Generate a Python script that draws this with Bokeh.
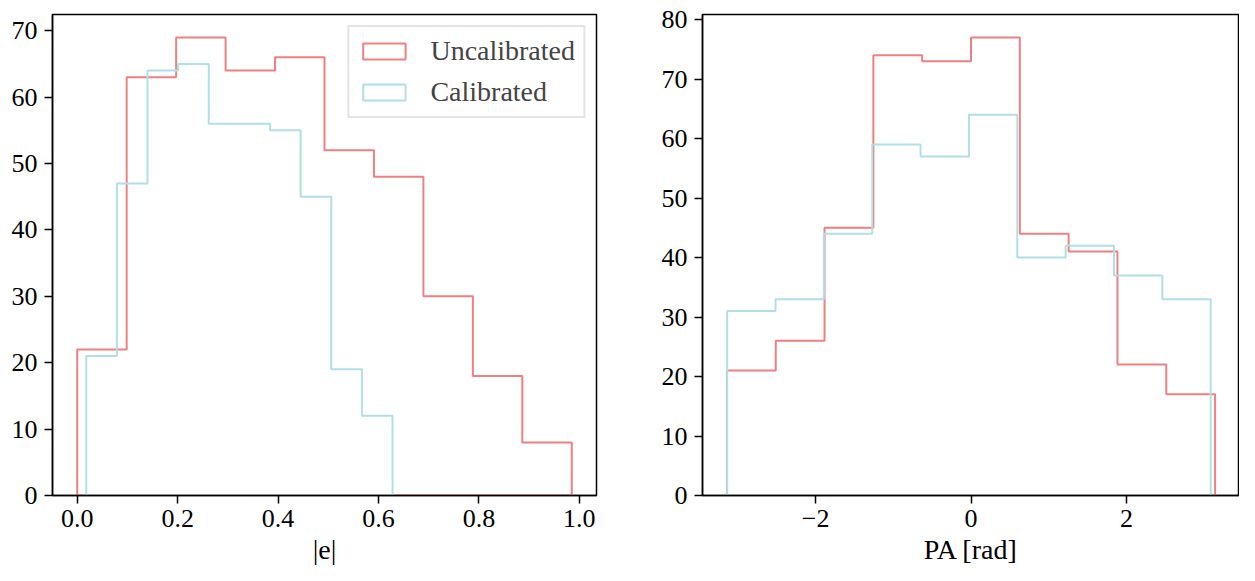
import numpy as np
from bokeh.plotting import figure
from bokeh.layouts import row
from bokeh.models import Range1d, FixedTicker, Legend, LegendItem
from bokeh.embed import file_html
from bokeh.resources import INLINE

# ---------------- data ----------------
# |e| histograms (10 bins each)
e_uncal_range = (0.0, 0.985)
e_uncal_counts = [22, 63, 69, 64, 66, 52, 48, 30, 18, 8]
e_cal_range = (0.018, 0.628)
e_cal_counts = [21, 47, 64, 65, 56, 56, 55, 45, 19, 12]

# PA histograms (10 bins each)
pa_uncal_range = (-3.1416, 3.1416)
pa_uncal_counts = [21, 26, 45, 74, 73, 77, 44, 41, 22, 17]
pa_cal_range = (-3.138, 3.085)
pa_cal_counts = [31, 33, 44, 59, 57, 64, 40, 42, 37, 33]

series_labels = ["Uncalibrated", "Calibrated"]
x1_ticks = [0.0, 0.2, 0.4, 0.6, 0.8, 1.0]
x1_tick_labels = ["0.0", "0.2", "0.4", "0.6", "0.8", "1.0"]
y1_ticks = [0, 10, 20, 30, 40, 50, 60, 70]
x2_ticks = [-2, 0, 2]
x2_tick_labels = ["\u22122", "0", "2"]
y2_ticks = [0, 10, 20, 30, 40, 50, 60, 70, 80]

RED = "#F08080"
CYAN = "#B0E0E6"
FONT = "Liberation Serif"
FS = "26px"
FS_BIG = "28px"


def step_outline(rng, counts):
    n = len(counts)
    edges = np.linspace(rng[0], rng[1], n + 1)
    xs = [edges[0]]
    ys = [0]
    for i, c in enumerate(counts):
        xs += [edges[i], edges[i + 1]]
        ys += [c, c]
    xs.append(edges[-1])
    ys.append(0)
    return xs, ys


def padded(lo, hi):
    d = (hi - lo) * 0.05
    return Range1d(lo - d, hi + d)


def style(p):
    for ax in (p.xaxis[0], p.yaxis[0]):
        ax.major_label_text_font = FONT
        ax.major_label_text_font_size = FS
        ax.major_label_text_color = "black"
        ax.axis_label_text_font = FONT
        ax.axis_label_text_font_size = FS_BIG
        ax.axis_label_text_font_style = "normal"
        ax.axis_label_text_color = "black"
        ax.major_tick_out = 8
        ax.major_tick_in = 0
        ax.minor_tick_out = 0
        ax.minor_tick_in = 0
        ax.axis_line_width = 1.5
        ax.major_tick_line_width = 1.5
        ax.axis_line_color = "black"
        ax.major_tick_line_color = "black"
    p.xaxis[0].major_label_standoff = 6
    p.yaxis[0].major_label_standoff = 7
    p.xaxis[0].axis_label_standoff = 4
    p.xgrid.visible = False
    p.ygrid.visible = False
    p.outline_line_color = "black"
    p.outline_line_width = 1.5
    p.outline_line_alpha = 1.0
    p.background_fill_color = "white"
    p.border_fill_color = "white"


# ---------------- left panel ----------------
p1 = figure(frame_width=544, frame_height=481, output_backend="svg", toolbar_location=None,
            x_range=padded(e_uncal_range[0], e_uncal_range[1]),
            y_range=Range1d(0, max(e_uncal_counts + e_cal_counts) * 1.05),
            min_border_left=52, min_border_right=8, min_border_top=14, min_border_bottom=70)
xs, ys = step_outline(e_uncal_range, e_uncal_counts)
r1 = p1.patch(xs, ys, fill_alpha=0, line_color=RED, line_width=2)
xs, ys = step_outline(e_cal_range, e_cal_counts)
r2 = p1.patch(xs, ys, fill_alpha=0, line_color=CYAN, line_width=2)
p1.xaxis.axis_label = "|e|"
p1.xaxis.ticker = FixedTicker(ticks=x1_ticks)
p1.xaxis.major_label_overrides = dict(zip(x1_ticks, x1_tick_labels))
p1.yaxis.ticker = FixedTicker(ticks=y1_ticks)
style(p1)

legend = Legend(items=[LegendItem(label=series_labels[0], renderers=[r1]),
                       LegendItem(label=series_labels[1], renderers=[r2])],
                location="top_right")
legend.label_text_font = FONT
legend.label_text_font_size = FS_BIG
legend.glyph_width = 53
legend.glyph_height = 20
legend.label_standoff = 20
legend.label_height = 28
legend.padding = 8
legend.spacing = 9
legend.margin = 11
legend.border_line_color = "#c8c8c8"
legend.border_line_width = 2
legend.background_fill_alpha = 0.8
p1.add_layout(legend)

# ---------------- right panel ----------------
p2 = figure(frame_width=537, frame_height=481, output_backend="svg", toolbar_location=None,
            x_range=padded(pa_uncal_range[0], pa_uncal_range[1]),
            y_range=Range1d(0, max(pa_uncal_counts + pa_cal_counts) * 1.05),
            min_border_left=98, min_border_right=0, min_border_top=14, min_border_bottom=70)
xs, ys = step_outline(pa_uncal_range, pa_uncal_counts)
p2.patch(xs, ys, fill_alpha=0, line_color=RED, line_width=2)
xs, ys = step_outline(pa_cal_range, pa_cal_counts)
p2.patch(xs, ys, fill_alpha=0, line_color=CYAN, line_width=2)
p2.xaxis.axis_label = "PA [rad]"
p2.xaxis.ticker = FixedTicker(ticks=x2_ticks)
p2.xaxis.major_label_overrides = dict(zip(x2_ticks, x2_tick_labels))
p2.yaxis.ticker = FixedTicker(ticks=y2_ticks)
style(p2)

layout = row(p1, p2, spacing=0)
open("out.html", "w").write(file_html(layout, INLINE))
